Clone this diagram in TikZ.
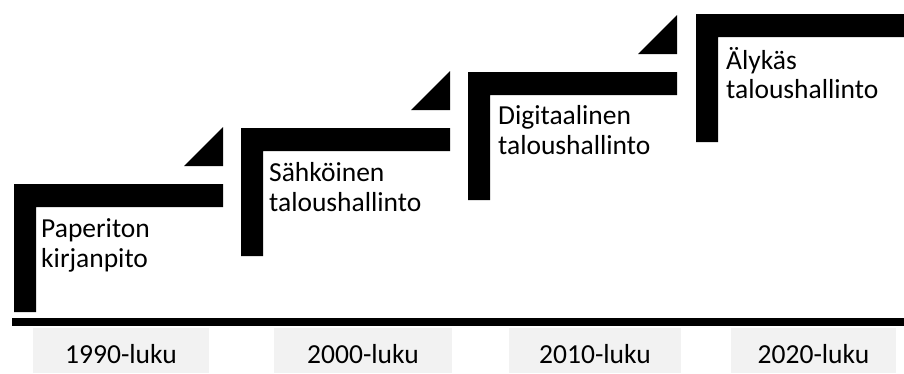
\documentclass[tikz,border=0pt]{standalone}
\usepackage{fontspec}
\setmainfont{Carlito}

\definecolor{boxgray}{HTML}{F2F2F2}
\newcommand*\stepwidth{209}
\newcommand*\stepheight{128}
\newcommand*\barsize{22}
\newcommand*\barthick{23}
\tikzset{stage/.style={
    anchor=north west,
    inner sep=0pt,
    font=\fontsize{27.5}{29.5}\selectfont,
    align=left
}}
\tikzset{decade/.style={
    anchor=north,
    fill=boxgray,
    inner sep=0pt,
    minimum width=#1,
    text height=35pt,
    text depth=10pt,
    font=\fontsize{27.5}{29.5}\selectfont
}}

\begin{document}
\begin{tikzpicture}[x=1pt,y=-1pt]
    \useasboundingbox (0,0) rectangle (904,373);

    % Draw the steps.
    \foreach \x/\y in {14/184,241/128,468/72,696/14}
        \fill (\x,\y) -- ++(\stepwidth,0) -- ++(0,\barthick)
            -- ++(\barsize-\stepwidth,0) -- ++(0,\stepheight-\barthick)
            -- ++(-\barsize,0) -- cycle;

    % Draw the small triangles above the steps.
    \foreach \x/\y in {14/184,241/128,468/72}
        \fill (\x+\stepwidth,\y-18) -- ++(0,-39) -- ++(-39,39) -- cycle;

    % Write the stages.
    \node[stage] (paperless) at (41,217) {\strut Paperiton\\kirjanpito};
    \node[stage] (electronic) at (269,161) {\strut Sähköinen\\taloushallinto};
    \node[stage] (digital) at (498,104) {\strut Digitaalinen\\taloushallinto};
    \node[stage] (intelligent) at (726,47) {\strut Älykäs\\taloushallinto};

    % Draw the time line.
    \fill (12,318) rectangle (904,326);

    % Write the decades.
    \node[decade=176] (y1990) at (121,328) {1990-luku};
    \node[decade=178] (y2000) at (363,328) {2000-luku};
    \node[decade=172] (y2010) at (595,328) {2010-luku};
    \node[decade=165] (y2020) at (813.5,328) {2020-luku};

\end{tikzpicture}
\end{document}
